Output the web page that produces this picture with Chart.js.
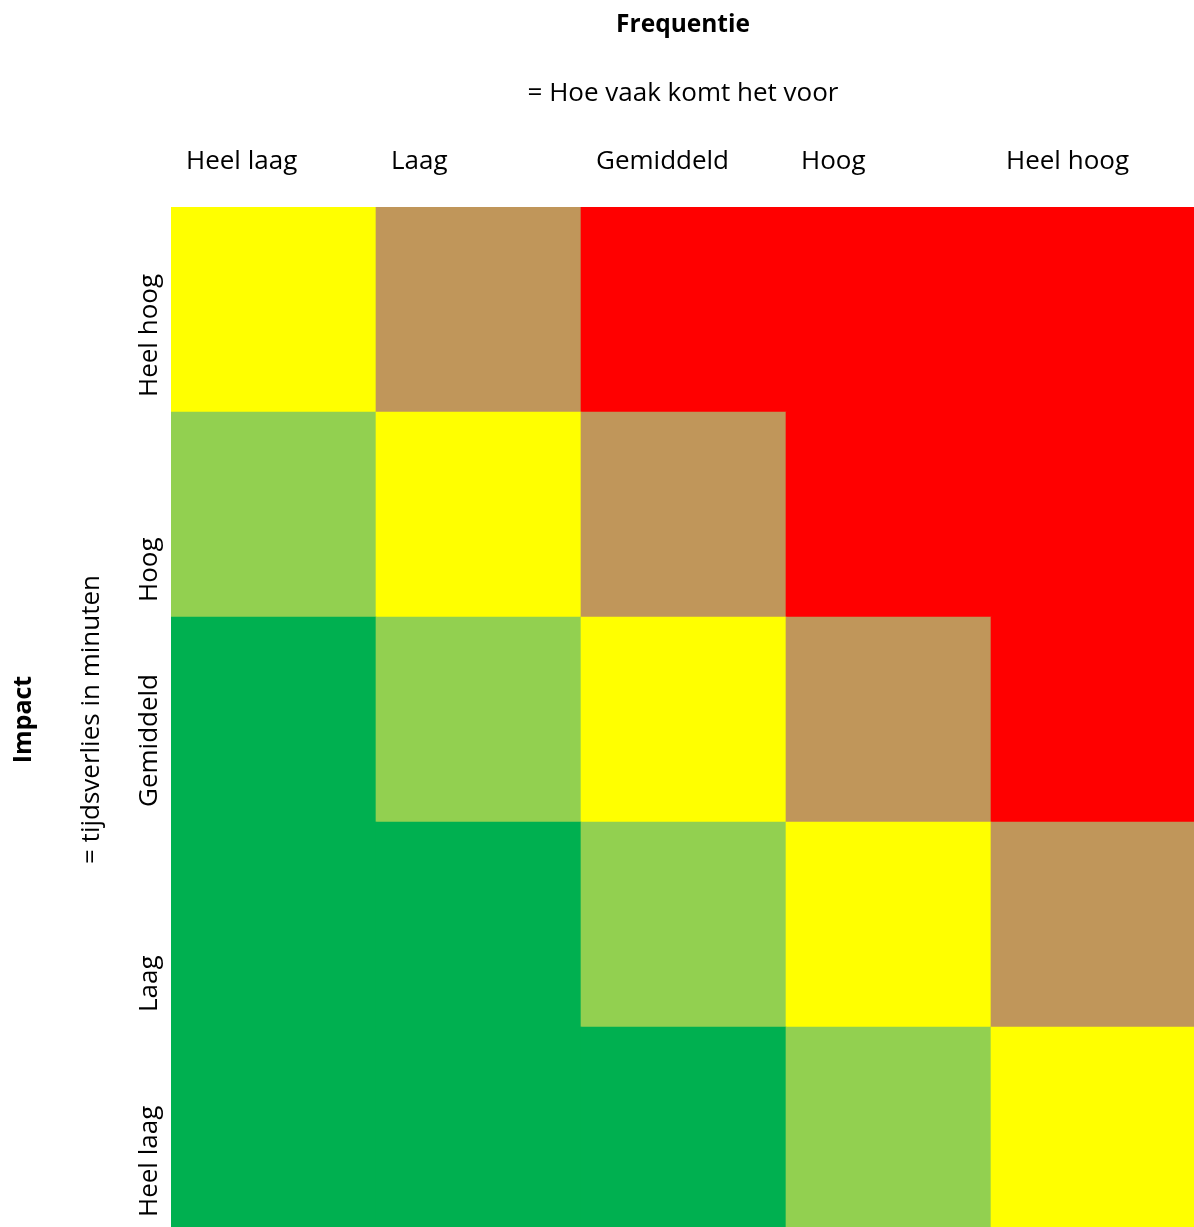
<!DOCTYPE html>
<html>
<head>
<meta charset="utf-8">
<script src="https://cdn.jsdelivr.net/npm/chart.js@4/dist/chart.umd.min.js"></script>
<style>
  html, body { margin: 0; padding: 0; background: #ffffff; overflow: hidden; }
  #wrap { width: 1196px; height: 1232px; }
</style>
</head>
<body>
<div id="wrap"><canvas id="c" width="1196" height="1232"></canvas></div>
<script>
// Frequency columns (left to right) and impact rows (bottom to top)
const frequencyLabels = ['Heel laag', 'Laag', 'Gemiddeld', 'Hoog', 'Heel hoog'];
const impactLabels = ['Heel laag', 'Laag', 'Gemiddeld', 'Hoog', 'Heel hoog'];

// Risk level colours: 0 = laag ... 4 = zeer hoog
const riskColors = ['#00B050', '#92D050', '#FFFF00', '#C0965A', '#FF0000'];

// Risk level per frequency column, one array per impact row
const riskHeelLaag   = [0, 0, 0, 1, 2];
const riskLaag       = [0, 0, 1, 2, 3];
const riskGemiddeld  = [0, 1, 2, 3, 4];
const riskHoog       = [1, 2, 3, 4, 4];
const riskHeelHoog   = [2, 3, 4, 4, 4];

// Every cell is one impact step tall
const cellHeight = [1, 1, 1, 1, 1];

const titleText = 'Frequentie';
const subtitleText = '= Hoe vaak komt het voor';
const yTitleText = 'Impact';
const ySubtitleText = '= tijdsverlies in minuten';

const riskRows = [riskHeelLaag, riskLaag, riskGemiddeld, riskHoog, riskHeelHoog];

const datasets = riskRows.map((row, r) => ({
  label: impactLabels[r],
  data: cellHeight.slice(),
  backgroundColor: row.map(level => riskColors[level]),
  borderWidth: 0,
  barPercentage: 1,
  categoryPercentage: 1
}));

const FONT = '"Open Sans", "DejaVu Sans", sans-serif';

// Draws the headings and the row/column labels around the matrix
const matrixLabels = {
  id: 'matrixLabels',
  afterDraw(chart) {
    const { ctx, chartArea } = chart;
    const xs = chart.scales.x;
    const ys = chart.scales.y;
    const cx = (chartArea.left + chartArea.right) / 2 - 0.5;
    const cy = (chartArea.top + chartArea.bottom) / 2;

    ctx.save();
    ctx.fillStyle = '#000000';
    ctx.textBaseline = 'alphabetic';

    // Top headings
    ctx.textAlign = 'center';
    ctx.font = 'bold 24.5px ' + FONT;
    ctx.fillText(titleText, cx, 32);
    ctx.font = '26px ' + FONT;
    ctx.fillText(subtitleText, cx, 101);

    // Column labels, left aligned in each column
    ctx.textAlign = 'left';
    frequencyLabels.forEach((lab, i) => {
      const left = xs.getPixelForValue(i - 0.5);
      ctx.fillText(lab, left + 15, 169);
    });

    // Row labels, rotated, starting near the bottom of each row
    impactLabels.forEach((lab, r) => {
      const bottom = ys.getPixelForValue(r);
      ctx.save();
      ctx.translate(157, bottom - 15);
      ctx.rotate(-Math.PI / 2);
      ctx.textAlign = 'left';
      ctx.fillText(lab, 0, 0);
      ctx.restore();
    });

    // Left headings
    ctx.save();
    ctx.translate(31, cy);
    ctx.rotate(-Math.PI / 2);
    ctx.textAlign = 'center';
    ctx.font = 'bold 25px ' + FONT;
    ctx.fillText(yTitleText, 0, 0);
    ctx.restore();

    ctx.save();
    ctx.translate(99, cy);
    ctx.rotate(-Math.PI / 2);
    ctx.textAlign = 'center';
    ctx.font = '26px ' + FONT;
    ctx.fillText(ySubtitleText, 0, 0);
    ctx.restore();

    ctx.restore();
  }
};

new Chart(document.getElementById('c'), {
  type: 'bar',
  data: { labels: frequencyLabels, datasets },
  options: {
    responsive: false,
    animation: false,
    layout: { padding: { left: 171, top: 207, right: 0, bottom: 0 } },
    plugins: {
      legend: { display: false },
      tooltip: { enabled: false }
    },
    scales: {
      x: { stacked: true, display: false, grid: { display: false } },
      y: { stacked: true, display: false, min: 0, max: 5, grid: { display: false } }
    }
  },
  plugins: [matrixLabels]
});
</script>
</body>
</html>
